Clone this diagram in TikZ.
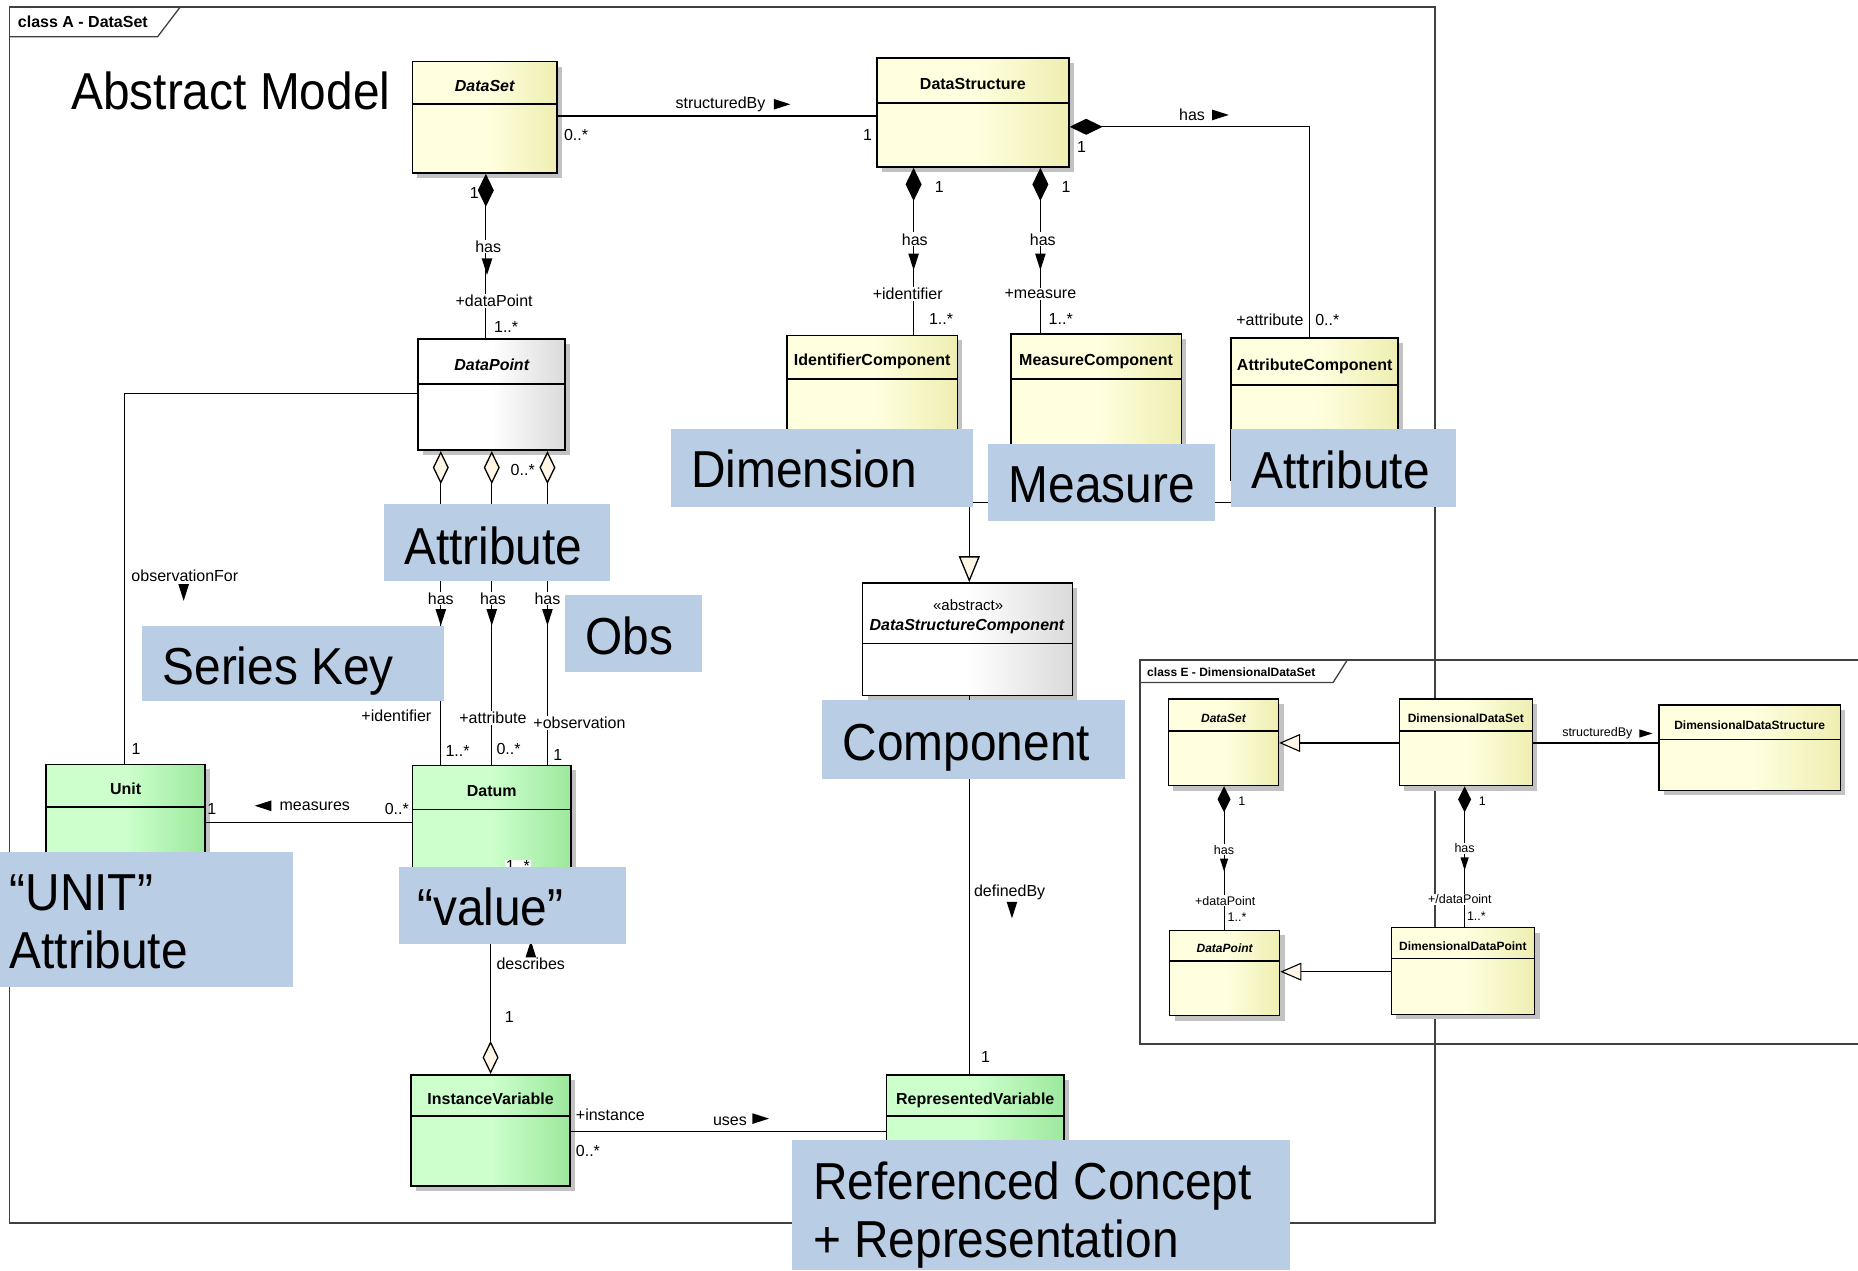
\documentclass[tikz,border=0pt]{standalone}
\usepackage{fontspec}
\setmainfont{Liberation Sans}
\newfontfamily\bigfont[FakeStretch=0.92]{Liberation Sans}
\usetikzlibrary{arrows.meta,fit,calc,shadows}

\definecolor{yL}{HTML}{FFFFE0}
\definecolor{yR}{HTML}{EEEEB2}
\definecolor{gL}{HTML}{CCFFCC}
\definecolor{gR}{HTML}{9DE89D}
\definecolor{wR}{HTML}{DADADA}
\definecolor{blu}{HTML}{B9CDE5}
\definecolor{cream}{HTML}{FFF6E6}
\definecolor{shad}{HTML}{C2C2C2}
\definecolor{frm}{HTML}{404040}

\tikzset{
  box/.style={draw=black, line width=1.6pt, inner sep=0pt,
    drop shadow={shadow xshift=5pt, shadow yshift=-5pt, fill=shad, opacity=1}},
  ebox/.style={box, line width=1.3pt},
  ylw/.style={left color=yL, right color=yR, middle color=yL},
  grn/.style={left color=gL, right color=gR, middle color=gL},
  gry/.style={left color=white, right color=wR, middle color=white},
  boxline/.style={line width=1.6pt},
  ttl/.style={font=\fontsize{16}{18}\selectfont\bfseries, inner sep=0pt, yshift=-9pt},
  ttli/.style={font=\fontsize{16}{18}\selectfont\bfseries\itshape, inner sep=0pt, yshift=-9pt},
  ettl/.style={font=\fontsize{12}{14}\selectfont\bfseries, inner sep=0pt, yshift=-7.5pt},
  ettli/.style={font=\fontsize{12}{14}\selectfont\bfseries\itshape, inner sep=0pt, yshift=-7.5pt},
  lbl/.style={font=\fontsize{16}{18}\selectfont, inner sep=1pt},
  lblw/.style={lbl, fill=white},
  elbl/.style={font=\fontsize{12.5}{14}\selectfont, inner sep=1pt},
  elblw/.style={elbl, fill=white},
  conn/.style={draw=black, line width=1.3pt},
  econn/.style={draw=black, line width=1.1pt},
  comp/.style={conn, {Diamond[length=33pt,width=16pt]}-},
  agg/.style={conn, {Diamond[length=33pt,width=16pt,fill=cream]}-},
  aggend/.style={conn, -{Diamond[length=33pt,width=16pt,fill=cream]}},
  gen/.style={conn, -{Triangle[length=26pt,width=21pt,fill=cream]}},
  ecomp/.style={econn, {Diamond[length=26pt,width=13pt]}-},
  egen/.style={econn, -{Triangle[length=21pt,width=18pt,fill=cream]}},
  frame/.style={draw=frm, line width=1.3pt},
  tabf/.style={font=\fontsize{16}{18}\selectfont\bfseries, inner sep=0pt, anchor=west},
  etabf/.style={font=\fontsize{12}{14}\selectfont\bfseries, inner sep=0pt, anchor=west},
  blue/.style={fill=blu, inner sep=0pt},
  big/.style={font=\bigfont\fontsize{52}{58}\selectfont, inner sep=0pt, anchor=base west},
}

\newcommand\mkclass[7]{%
  \node[#2,fit={#3 #4}] (#1) {};
  \draw[boxline] (#1.west |- 0,#5) -- (#1.east |- 0,#5);
  \node[#7, anchor=base] (#1-t) at ($(#1.north)!0.5!(#1.north |- 0,#5)$) {#6};
}
\newcommand\tR[2]{\fill (#1-7,#2-4.5) -- (#1+7,#2) -- (#1-7,#2+4.5) -- cycle;}
\newcommand\tL[2]{\fill (#1+7,#2-4.5) -- (#1-7,#2) -- (#1+7,#2+4.5) -- cycle;}
\newcommand\tD[2]{\fill (#1-4.5,#2-7) -- (#1,#2+7) -- (#1+4.5,#2-7) -- cycle;}
\newcommand\tU[2]{\fill (#1-4.5,#2+7) -- (#1,#2-7) -- (#1+4.5,#2+7) -- cycle;}
\newcommand\teR[2]{\fill (#1-5.5,#2-3.5) -- (#1+5.5,#2) -- (#1-5.5,#2+3.5) -- cycle;}
\newcommand\teD[2]{\fill (#1-3.5,#2-5.5) -- (#1,#2+5.5) -- (#1+3.5,#2-5.5) -- cycle;}

\begin{document}
\begin{tikzpicture}[x=1.185pt,y=-1.185pt]
\useasboundingbox (0,0) rectangle (1568,1072);
\fill[white] (0,0) rectangle (1568,1072);

% ---------- frames ----------
\draw[frame] (8,6) rectangle (1211,1032);
\draw[frame] (8,31) -- (133,31) -- (152,6);
\node[tabf] (tabA) at (15,18) {class A - DataSet};

\draw[frame] (1600,557) -- (962,557) -- (962,881) -- (1600,881);
\draw[frame] (962,576) -- (1125,576) -- (1137,557);
\node[etabf] (tabE) at (968,567) {class E - DimensionalDataSet};

\node[big] (amodel) at (60,92) {Abstract Model};

% ---------- classes (frame A) ----------
\mkclass{dset}{box,ylw}{(348,52)}{(470,146)}{88}{DataSet}{ttli}
\mkclass{dstr}{box,ylw}{(740,49)}{(902,141)}{87}{DataStructure}{ttl}
\mkclass{icomp}{box,ylw}{(664,283)}{(808,405)}{320}{IdentifierComponent}{ttl}
\mkclass{mcomp}{box,ylw}{(853,282)}{(997,410)}{320}{MeasureComponent}{ttl}
\mkclass{acomp}{box,ylw}{(1039,285)}{(1180,405)}{325}{AttributeComponent}{ttl}
\mkclass{dpt}{box,gry}{(353,286)}{(477,380)}{324}{DataPoint}{ttli}
\node[box,gry,fit={(728,492) (905,587)}] (dsc) {};
\draw[boxline] (dsc.west |- 0,543) -- (dsc.east |- 0,543);
\node[font=\fontsize{15}{17}\selectfont, inner sep=0pt, anchor=base] (dsc-s) at (817,515) {«abstract»};
\node[font=\fontsize{16}{18}\selectfont\bfseries\itshape, inner sep=0pt, anchor=base] (dsc-t) at (816,532) {DataStructureComponent};
\mkclass{unit}{box,grn}{(39,645)}{(173,780)}{681}{Unit}{ttl}
\mkclass{datum}{box,grn}{(348,646)}{(482,785)}{683}{Datum}{ttl}
\mkclass{ivar}{box,grn}{(347,907)}{(481,1001)}{942}{InstanceVariable}{ttl}
\mkclass{rvar}{box,grn}{(748,907)}{(898,1000)}{942}{RepresentedVariable}{ttl}

% ---------- classes (frame E) ----------
\mkclass{eds}{ebox,ylw}{(986,590)}{(1079,663)}{617}{DataSet}{ettli}
\mkclass{edds}{ebox,ylw}{(1181,590)}{(1293,663)}{617}{DimensionalDataSet}{ettl}
\mkclass{eddstr}{ebox,ylw}{(1400,595)}{(1553,667)}{624}{DimensionalDataStructure}{ettl}
\mkclass{edp}{ebox,ylw}{(987,785)}{(1080,857)}{811}{DataPoint}{ettli}
\mkclass{eddp}{ebox,ylw}{(1174,783)}{(1295,856)}{809}{DimensionalDataPoint}{ettl}

% ---------- connectors (frame A) ----------
\draw[conn] (dset.east |- 0,98) -- (dstr.west |- 0,98);
\draw[comp] (dstr.east |- 0,107) -| (acomp.north -| 1105,0);
\draw[comp] (dstr.south -| 771,0) -- (icomp.north -| 771,0);
\draw[comp] (dstr.south -| 878,0) -- (mcomp.north -| 878,0);
\draw[comp] (dset.south -| 410,0) -- (dpt.north -| 410,0);
\draw[conn] (dpt.west |- 0,332) -| (unit.north -| 105,0);
\draw[agg] (dpt.south -| 372,0) -- (datum.north -| 372,0);
\draw[agg] (dpt.south -| 415,0) -- (datum.north -| 415,0);
\draw[agg] (dpt.south -| 462,0) -- (datum.north -| 462,0);
\draw[conn] (unit.east |- 0,694) -- (datum.west |- 0,694);
\draw[aggend] (datum.south -| 414,0) -- (ivar.north -| 414,0);
\draw[conn] (ivar.east |- 0,955) -- (rvar.west |- 0,955);
\draw[conn] (dsc.south -| 818,0) -- (rvar.north -| 818,0);
\coordinate (gj) at (818,424);
\draw[conn] (icomp.south -| 736,0) |- (gj);
\draw[conn] (mcomp.south -| 925,0) |- (gj);
\draw[conn] (acomp.south -| 1110,0) |- (gj);
\draw[gen] (gj) -- (dsc.north -| 818,0);

% ---------- connectors (frame E) ----------
\draw[egen] (edds.west |- 0,627) -- (eds.east |- 0,627);
\draw[egen] (eddp.west |- 0,820) -- (edp.east |- 0,820);
\draw[econn] (edds.east |- 0,627) -- (eddstr.west |- 0,627);
\draw[ecomp] (eds.south -| 1033,0) -- (edp.north -| 1033,0);
\draw[ecomp] (edds.south -| 1236,0) -- (eddp.north -| 1236,0);

% ---------- labels (frame A) ----------
\node[lbl] (l1) at (608,88) {structuredBy}; \tR{660}{88}
\node[lbl, anchor=west] (l2) at (475,114) {0..*};
\node[lbl, anchor=east] (l3) at (737,114) {1};
\node[lbl] (l4) at (1006,97) {has}; \tR{1030}{97}
\node[lbl, anchor=west] (l5) at (908,124) {1};
\node[lbl, anchor=east] (l6) at (1101,270) {+attribute};
\node[lbl, anchor=west] (l7) at (1109,270) {0..*};
\node[lbl, anchor=west] (l8) at (788,158) {1};
\node[lblw] (l9) at (772,202) {has}; \tD{771}{221}
\node[lblw] (l10) at (766,248) {+identifier};
\node[lbl, anchor=west] (l11) at (783,269) {1..*};
\node[lbl, anchor=west] (l12) at (895,158) {1};
\node[lblw] (l13) at (880,202) {has}; \tD{878}{221}
\node[lblw] (l14) at (878,248) {+measure};
\node[lbl, anchor=west] (l15) at (884,269) {1..*};
\node[lbl, anchor=east] (l16) at (405,163) {1};
\node[lblw] (l17) at (412,208) {has}; \tD{411}{225}
\node[lblw] (l18) at (417,254) {+dataPoint};
\node[lbl, anchor=west] (l19) at (416,276) {1..*};
\node[lbl] (l20) at (156,486) {observationFor}; \tD{155}{500}
\node[lbl, anchor=west] (l21) at (110,632) {1};
\node[lbl, anchor=west] (l22) at (430,397) {0..*};
\node[lblw] (l23) at (372,505) {has}; \tD{372}{521}
\node[lblw] (l24) at (416,505) {has}; \tD{415}{521}
\node[lblw] (l25) at (462,505) {has}; \tD{462}{521}
\node[lbl, anchor=east] (l26) at (365,604) {+identifier};
\node[lbl, anchor=west] (l27) at (375,634) {1..*};
\node[lblw] (l28) at (416,606) {+attribute};
\node[lbl, anchor=west] (l29) at (418,632) {0..*};
\node[lblw] (l30) at (489,610) {+observation};
\node[lbl, anchor=west] (l31) at (466,637) {1};
\node[lbl, anchor=west] (l32) at (174,683) {1};
\tL{222}{680}
\node[lbl, anchor=west] (l33) at (235,680) {measures};
\node[lbl, anchor=east] (l34) at (346,683) {0..*};
\node[lblw] (l35) at (437,731) {1..*};
\tU{448}{801}
\node[lbl, anchor=west] (l36) at (418,813) {describes};
\node[lbl, anchor=west] (l37) at (425,858) {1};
\node[lbl, anchor=west] (l38) at (485,941) {+instance};
\node[lbl, anchor=west] (l39) at (485,971) {0..*};
\node[lbl] (l40) at (616,946) {uses}; \tR{642}{944}
\node[lbl, anchor=west] (l41) at (821,753) {definedBy}; \tD{854}{768}
\node[lbl, anchor=west] (l42) at (827,892) {1};

% ---------- labels (frame E) ----------
\node[elbl] (e1) at (1348,619) {structuredBy}; \teR{1389}{619}
\node[elbl, anchor=west] (e2) at (1044,676) {1};
\node[elblw] (e3) at (1033,717) {has}; \teD{1033}{730}
\node[elblw] (e4) at (1034,760) {+dataPoint};
\node[elbl, anchor=west] (e5) at (1035,774) {1..*};
\node[elbl, anchor=west] (e6) at (1247,676) {1};
\node[elblw] (e7) at (1236,716) {has}; \teD{1236}{729}
\node[elblw] (e8) at (1232,759) {+/dataPoint};
\node[elbl, anchor=west] (e9) at (1237,773) {1..*};

% ---------- blue annotation boxes ----------
\node[blue, fit={(566,362) (821,428)}] (bDim) {};
\node[big] (tDim) at (583,411) {Dimension};
\node[blue, fit={(834,375) (1025,440)}] (bMea) {};
\node[big] (tMea) at (851,424) {Measure};
\node[blue, fit={(1039,362) (1229,428)}] (bAttR) {};
\node[big] (tAttR) at (1056,412) {Attribute};
\node[blue, fit={(324,425) (515,490)}] (bAttM) {};
\node[big] (tAttM) at (341,476) {Attribute};
\node[blue, fit={(120,528) (375,592)}] (bSK) {};
\node[big] (tSK) at (137,578) {Series Key};
\node[blue, fit={(477,502) (592,567)}] (bObs) {};
\node[big] (tObs) at (494,552) {Obs};
\node[blue, fit={(694,591) (949,657)}] (bComp) {};
\node[big] (tComp) at (711,642) {Component};
\node[blue, fit={(0,719) (247,833)}] (bUnit) {};
\node[big] (tUnit) at (8,768) {“UNIT”};
\node[big] (tUnit2) at (8,817) {Attribute};
\node[blue, fit={(337,732) (528,797)}] (bVal) {};
\node[big] (tVal) at (352,781) {“value”};
\node[blue, fit={(668,962) (1089,1072)}] (bRef) {};
\node[big] (tRef) at (686,1012) {Referenced Concept};
\node[big] (tRef2) at (686,1061) {+ Representation};
\end{tikzpicture}
\end{document}
